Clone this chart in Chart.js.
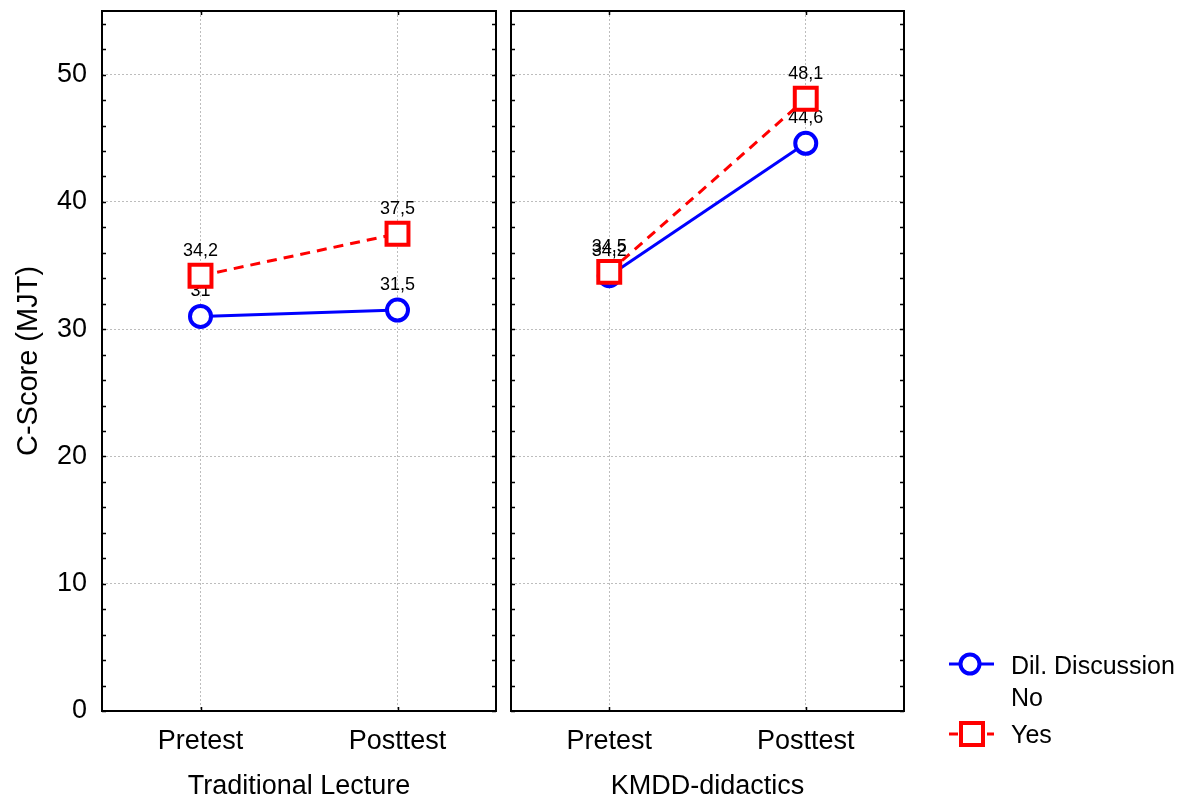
<!DOCTYPE html>
<html>
<head>
<meta charset="utf-8">
<script src="https://cdn.jsdelivr.net/npm/chart.js@4"></script>
<style>
    html, body { margin: 0; padding: 0; background: #fff; }
    #wrap { position: relative; width: 1186px; height: 803px; }
    #left { position: absolute; left: 0; top: 0; }
    #right { position: absolute; left: 505px; top: 0; }
</style>
</head>
<body>
<div id="wrap">
    <canvas id="left" width="500" height="803"></canvas>
    <canvas id="right" width="681" height="803"></canvas>
</div>
<script>
var phases = ["Pretest", "Posttest"];
var groups = ["Traditional Lecture", "KMDD-didactics"];
var legendTitle = "Dil. Discussion";
var seriesNames = ["No", "Yes"];
var tradNo = [31, 31.5];
var tradYes = [34.2, 37.5];
var kmddNo = [34.2, 44.6];
var kmddYes = [34.5, 48.1];
var yTicks = [0, 10, 20, 30, 40, 50];
var yMax = 55;

var FONT = '"Liberation Sans", Arial, sans-serif';
var BLUE = "#0000ff";
var RED = "#ff0000";

// frame around each panel plus small inward ticks
var framePlugin = {
    id: "frame",
    afterDraw: function (chart) {
        var ctx = chart.ctx, a = chart.chartArea;
        var y = chart.scales.y, x = chart.scales.x;
        ctx.save();
        ctx.strokeStyle = "#000";
        ctx.lineWidth = 1.5;
        for (var v = 0; v <= yMax; v += 2) {
            var py = Math.round(y.getPixelForValue(v)) + 0.5;
            ctx.beginPath();
            ctx.moveTo(a.left, py); ctx.lineTo(a.left + 4, py);
            ctx.moveTo(a.right, py); ctx.lineTo(a.right - 4, py);
            ctx.stroke();
        }
        phases.forEach(function (p, i) {
            var px = Math.round(x.getPixelForValue(i)) + 0.5;
            ctx.beginPath();
            ctx.moveTo(px, a.top); ctx.lineTo(px, a.top + 4);
            ctx.moveTo(px, a.bottom); ctx.lineTo(px, a.bottom - 4);
            ctx.stroke();
        });
        ctx.lineWidth = 2;
        ctx.strokeRect(a.left, a.top, a.right - a.left, a.bottom - a.top);
        ctx.restore();
    }
};

// value labels, drawn right after each dataset so later markers may cover them
var valueLabels = {
    id: "valueLabels",
    afterDatasetDraw: function (chart, args) {
        var ctx = chart.ctx;
        var ds = chart.data.datasets[args.index];
        ctx.save();
        ctx.font = "18px " + FONT;
        ctx.fillStyle = "#000";
        ctx.textAlign = "center";
        ctx.textBaseline = "alphabetic";
        args.meta.data.forEach(function (pt, i) {
            ctx.fillText(String(ds.data[i]).replace(".", ","), pt.x, pt.y - 20);
        });
        ctx.restore();
    }
};

// statistica style legend at the lower right
var legendPlugin = {
    id: "sideLegend",
    afterDraw: function (chart) {
        var ctx = chart.ctx;
        var ds = chart.data.datasets;
        ctx.save();
        ctx.font = "25px " + FONT;
        ctx.textAlign = "left";
        ctx.textBaseline = "middle";

        // No
        ctx.strokeStyle = ds[0].borderColor;
        ctx.lineWidth = 3;
        ctx.beginPath();
        ctx.moveTo(444, 664); ctx.lineTo(489, 664);
        ctx.stroke();
        ctx.lineWidth = 4;
        ctx.fillStyle = "#fff";
        ctx.beginPath();
        ctx.arc(465, 664, 9.5, 0, Math.PI * 2);
        ctx.fill(); ctx.stroke();

        // Yes
        ctx.strokeStyle = ds[1].borderColor;
        ctx.lineWidth = 3;
        ctx.beginPath();
        ctx.moveTo(444, 734); ctx.lineTo(453, 734);
        ctx.moveTo(482, 734); ctx.lineTo(489, 734);
        ctx.stroke();
        ctx.lineWidth = 4;
        ctx.fillRect(456, 723, 22, 22);
        ctx.strokeRect(456, 723, 22, 22);

        ctx.fillStyle = "#000";
        ctx.fillText(legendTitle, 506, 667);
        ctx.fillText(ds[0].label, 506, 699);
        ctx.fillText(ds[1].label, 506, 736);
        ctx.restore();
    }
};

function makePanel(id, title, noVals, yesVals, withAxis, padding, plugins) {
    return new Chart(document.getElementById(id), {
        type: "line",
        data: {
            labels: phases,
            datasets: [
                {
                    label: seriesNames[0],
                    data: noVals,
                    borderColor: BLUE,
                    borderWidth: 3,
                    pointStyle: "circle",
                    pointRadius: 10.5,
                    pointBorderWidth: 4,
                    pointBackgroundColor: "#fff",
                    pointBorderColor: BLUE,
                    order: 2,
                    clip: false,
                },
                {
                    label: seriesNames[1],
                    data: yesVals,
                    borderColor: RED,
                    borderWidth: 3,
                    borderDash: [10, 7],
                    pointStyle: "rect",
                    pointRadius: 15.5,
                    pointBorderWidth: 4,
                    pointBackgroundColor: "#fff",
                    pointBorderColor: RED,
                    order: 1,
                    clip: false,
                },
            ],
        },
        options: {
            responsive: false,
            animation: false,
            layout: { padding: padding, autoPadding: false },
            plugins: { legend: { display: false }, tooltip: { enabled: false } },
            scales: {
                x: {
                    offset: true,
                    grid: { offset: false, color: "#bdbdbd", drawTicks: false },
                    border: { display: false, dash: [2, 2] },
                    ticks: { color: "#000", padding: 14, font: { family: FONT, size: 27 } },
                    title: {
                        display: true,
                        text: title,
                        color: "#000",
                        font: { family: FONT, size: 27 },
                        padding: { top: 0, bottom: 0 },
                    },
                    afterFit: function (s) {
                        s.height = 92;
                        s.paddingLeft = 0;
                        s.paddingRight = 0;
                    },
                },
                y: {
                    min: 0,
                    max: yMax,
                    grid: { color: "#bdbdbd", drawTicks: false },
                    border: { display: false, dash: [2, 2] },
                    afterBuildTicks: function (s) {
                        s.ticks = yTicks.map(function (v) { return { value: v }; });
                    },
                    ticks: {
                        display: withAxis,
                        color: "#000",
                        padding: 15,
                        font: { family: FONT, size: 27 },
                    },
                    title: {
                        display: withAxis,
                        text: "C-Score (MJT)",
                        color: "#000",
                        font: { family: FONT, size: 29 },
                        padding: { top: 12, bottom: 0 },
                    },
                    afterFit: function (s) {
                        s.width = withAxis ? 102 : 0;
                        s.paddingTop = 0;
                        s.paddingBottom = 0;
                    },
                },
            },
        },
        plugins: plugins,
    });
}

makePanel("left", groups[0], tradNo, tradYes, true,
    { top: 11, right: 4, left: 0, bottom: 0 }, [framePlugin, valueLabels]);
makePanel("right", groups[1], kmddNo, kmddYes, false,
    { top: 11, right: 282, left: 6, bottom: 0 }, [framePlugin, valueLabels, legendPlugin]);
</script>
</body>
</html>
